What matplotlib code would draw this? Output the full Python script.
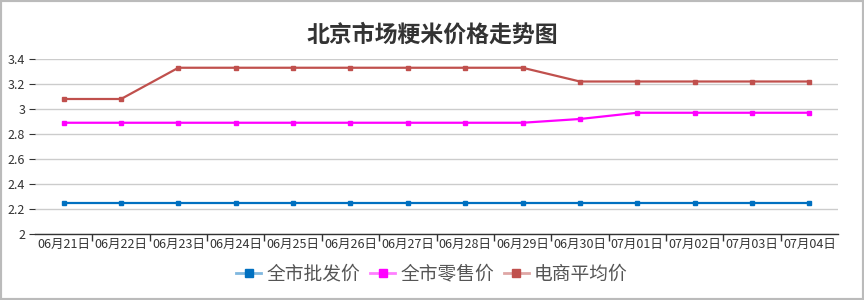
import matplotlib
matplotlib.use("Agg")
import matplotlib.pyplot as plt
from matplotlib.patches import Rectangle
from matplotlib.lines import Line2D
from matplotlib.colors import to_rgba

plt.rcParams['font.family'] = ['Noto Sans CJK SC', 'DejaVu Sans']

dates = ["06月21日", "06月22日", "06月23日", "06月24日", "06月25日", "06月26日", "06月27日",
         "06月28日", "06月29日", "06月30日", "07月01日", "07月02日", "07月03日", "07月04日"]
wholesale = [2.25] * 14
retail = [2.89, 2.89, 2.89, 2.89, 2.89, 2.89, 2.89, 2.89, 2.89, 2.92, 2.97, 2.97, 2.97, 2.97]
ecommerce = [3.08, 3.08, 3.33, 3.33, 3.33, 3.33, 3.33, 3.33, 3.33, 3.22, 3.22, 3.22, 3.22, 3.22]
series_names = ["全市批发价", "全市零售价", "电商平均价"]
colors = ["#0070C0", "#FF00FF", "#C0504D"]
yticks = [2, 2.2, 2.4, 2.6, 2.8, 3, 3.2, 3.4]
ytick_labels = ["2", "2.2", "2.4", "2.6", "2.8", "3", "3.2", "3.4"]

fig = plt.figure(figsize=(8.64, 3.0), dpi=100)
ax = fig.add_axes([35/864, 1-234/300, (838-35)/864, 175/300])

x = list(range(len(dates)))
for vals, name, c in zip([wholesale, retail, ecommerce], series_names, colors):
    ax.plot(x, vals, color=c, lw=1.6, marker='s', markersize=3.5, label=name, zorder=3)

ax.set_xlim(-0.5, len(dates) - 0.5)
ax.set_ylim(2, 3.4)
ax.set_yticks(yticks)
ax.set_yticklabels(ytick_labels)
ax.set_xticks(x)
ax.set_xticklabels(dates)
ax.set_xticks([i - 0.5 for i in range(1, len(dates))], minor=True)
ax.tick_params(axis='x', which='major', length=0, labelsize=9, colors='#333333', pad=3)
ax.tick_params(axis='x', which='minor', length=5, color='#333333', width=1)
ax.tick_params(axis='y', length=4, labelsize=9, colors='#333333', pad=3, color='#333333')
ax.yaxis.grid(True, color='#cccccc', lw=1)
ax.set_axisbelow(True)
for s in ['top', 'right', 'left']:
    ax.spines[s].set_visible(False)
ax.spines['bottom'].set_color('#333333')
ax.spines['bottom'].set_linewidth(1)

fig.text(0.5, 1-35/300, "北京市场粳米价格走势图", ha='center', va='center',
         fontsize=16.5, fontweight='bold', color='#333333')

handles = []
for c in colors:
    light = to_rgba(c, 0.5)
    handles.append(Line2D([0], [0], color=light, lw=2, marker='s', markersize=6,
                          markerfacecolor=c, markeredgecolor=c))
leg = fig.legend(handles, series_names, loc='center', bbox_to_anchor=(0.5, 1-274/300),
                 ncol=3, frameon=False, fontsize=13.5, handlelength=1.33,
                 handletextpad=0.27, columnspacing=0.53)
for t in leg.get_texts():
    t.set_color('#555555')

fig.patches.append(Rectangle((0, 0), 1, 1, transform=fig.transFigure, fill=False,
                             edgecolor='#bbbbbb', lw=3))

fig.savefig("out.png", dpi=100)
